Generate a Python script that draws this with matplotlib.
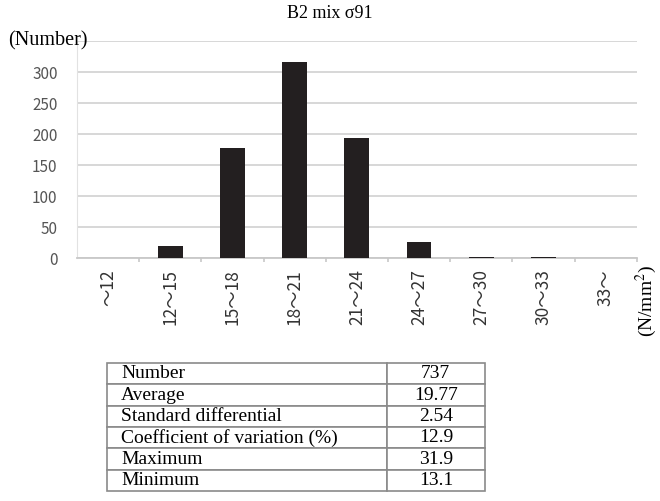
import matplotlib
matplotlib.use("Agg")
import matplotlib.pyplot as plt

# strength classes (N/mm2) and counts per class
classes = ["～12", "12～15", "15～18", "18～21", "21～24", "24～27", "27～30", "30～33", "33～"]
counts = [0, 20, 178, 316, 193, 26, 2, 2, 0]
count_ticks = [0, 50, 100, 150, 200, 250, 300, 350]

# summary statistics
stat_names = ["Number", "Average", "Standard differential",
              "Coefficient of variation (%)", "Maximum", "Minimum"]
stat_values = ["737", "19.77", "2.54", "12.9", "31.9", "13.1"]

SERIF = "Liberation Serif"
TICK_FONT = ["Noto Sans CJK JP", "DejaVu Sans"]
GRID = "#d4d4d4"

fig = plt.figure(figsize=(6.6, 5.01), dpi=100)

# --------------------------------------------------
# HISTOGRAM
# --------------------------------------------------
ax = fig.add_axes([0.1167, 0.485, 0.848, 0.433])
x = list(range(len(classes)))
ax.bar(x, counts, width=0.4, color="#231f20", zorder=3)

ax.set_xlim(-0.5, len(classes) - 0.5)
ax.set_ylim(0, 350)
ax.set_yticks(count_ticks)
# top label sits under the "(Number)" caption, so leave it empty
ylabels = [str(v) for v in count_ticks[:-1]] + [""]
ax.set_yticklabels(ylabels, family=TICK_FONT)
ax.yaxis.grid(True, color=GRID, linewidth=1.3, zorder=0)

for side in ["top", "right"]:
    ax.spines[side].set_visible(False)
ax.spines["left"].set_color("#e2e2e2")
ax.spines["bottom"].set_color("#c8c8c8")
ax.spines["bottom"].set_linewidth(1.3)

ax.tick_params(axis="y", length=0, labelsize=11, labelcolor="#555555", pad=14)
ax.set_xticks(x)
ax.set_xticklabels(classes, rotation=90, fontsize=12.5, color="#333333",
                   family=TICK_FONT)
ax.tick_params(axis="x", length=0, pad=8)
# small ticks on the class boundaries
ax.set_xticks([i + 0.5 for i in x], minor=True)
ax.tick_params(axis="x", which="minor", length=3, color="#c8c8c8", width=1.2)

fig.text(0.5, 0.974, "B2 mix σ91", ha="center", va="center",
         family=SERIF, fontsize=13)
fig.text(0.012, 0.918, "(Number)", ha="left", va="center",
         family=SERIF, fontsize=14.5)
fig.text(0.98, 0.40, "(N/mm$^2$)", ha="center", va="center", rotation=90,
         family=SERIF, fontsize=14, math_fontfamily="stix")

# --------------------------------------------------
# STATISTICS TABLE
# --------------------------------------------------
tax = fig.add_axes([107 / 660, 1 - 491 / 501, 378 / 660, 128 / 501])
tax.axis("off")
tbl = tax.table(cellText=[[n, v] for n, v in zip(stat_names, stat_values)],
                colWidths=[0.74, 0.26], bbox=[0, 0, 1, 1])
tbl.auto_set_font_size(False)
for (r, c), cell in tbl.get_celld().items():
    cell.set_edgecolor("#8a8a8a")
    cell.set_linewidth(1.2)
    txt = cell.get_text()
    txt.set_fontfamily(SERIF)
    txt.set_fontsize(14)
    if c == 0:
        txt.set_ha("left")
        cell.PAD = 0.05
    else:
        txt.set_ha("center")

fig.savefig("out.png", dpi=100)
